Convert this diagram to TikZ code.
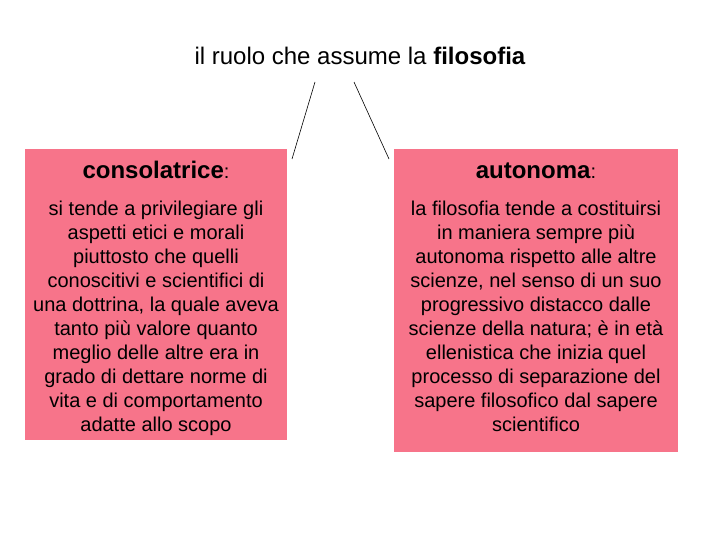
\documentclass[tikz,border=0pt]{standalone}
\usepackage{fontspec}
\setmainfont{Liberation Sans}
\definecolor{boxpink}{RGB}{247,116,138}
\begin{document}
\begin{tikzpicture}[x=1pt,y=-1pt,
  box/.style={fill=boxpink, draw=none, anchor=north west, inner sep=0pt},
  head/.style={anchor=base, inner sep=0pt, font=\fontsize{24}{28}\selectfont},
  body/.style={anchor=north, inner sep=0pt, align=center, font=\fontsize{20}{24}\selectfont},
  link/.style={draw=black, line width=0.6pt}]
\useasboundingbox (0,0) rectangle (720,540);
\node[anchor=base, inner sep=0pt, font=\fontsize{24}{28}\selectfont] (title) at (360,65) {il ruolo che assume la \textbf{filosofia}};
\coordinate (l1) at (315,82);
\coordinate (l2) at (292,159);
\coordinate (r1) at (354,82);
\coordinate (r2) at (389,159);
\draw[link] (l1) -- (l2);
\draw[link] (r1) -- (r2);
\node[box, minimum width=262, minimum height=291] (lbox) at (25,149) {};
\node[box, minimum width=284, minimum height=303] (rbox) at (394,149) {};
\node[head] (lhead) at (156,179) {\textbf{consolatrice}{\fontsize{20}{24}\selectfont:}};
\node[head] (rhead) at (536,179) {\textbf{autonoma}{\fontsize{20}{24}\selectfont:}};
\node[body] (lbody) at (156,201) {si tende a privilegiare gli\\aspetti etici e morali\\piuttosto che quelli\\conoscitivi e scientifici di\\una dottrina, la quale aveva\\tanto più valore quanto\\meglio delle altre era in\\grado di dettare norme di\\vita e di comportamento\\adatte allo scopo};
\node[body] (rbody) at (536,201) {la filosofia tende a costituirsi\\in maniera sempre più\\autonoma rispetto alle altre\\scienze, nel senso di un suo\\progressivo distacco dalle\\scienze della natura; è in età\\ellenistica che inizia quel\\processo di separazione del\\sapere filosofico dal sapere\\scientifico};
\end{tikzpicture}
\end{document}
